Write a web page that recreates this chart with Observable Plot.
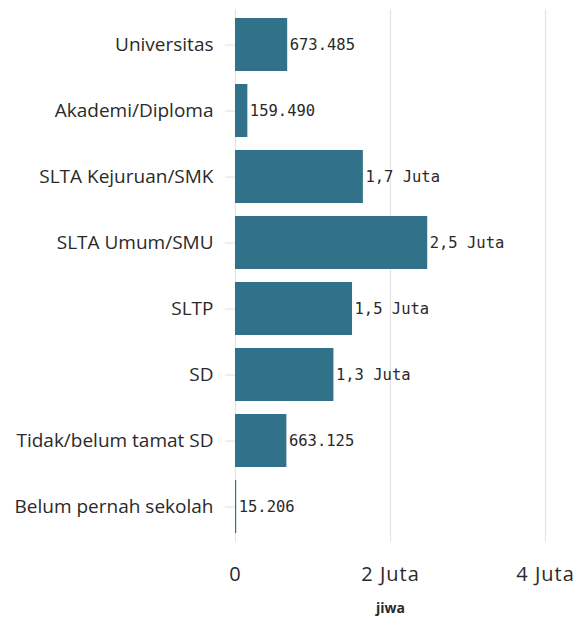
<!DOCTYPE html>
<html>
<head>
<meta charset="utf-8">
<script src="https://cdn.jsdelivr.net/npm/d3@7"></script>
<script src="https://cdn.jsdelivr.net/npm/@observablehq/plot@0.6"></script>
<style>
  html, body { margin: 0; padding: 0; background: #fff; }
  #chart svg { display: block; }
  g[aria-label="x-axis label"] text { font-weight: bold; font-size: 14px; font-family: "Open Sans"; }
  g[aria-label="x-axis tick label"] text { letter-spacing: 1px; }
</style>
</head>
<body>
<div id="chart"></div>
<script>
const categories = [
  "Universitas",
  "Akademi/Diploma",
  "SLTA Kejuruan/SMK",
  "SLTA Umum/SMU",
  "SLTP",
  "SD",
  "Tidak/belum tamat SD",
  "Belum pernah sekolah"
];
const values = [673485, 159490, 1650000, 2480000, 1510000, 1270000, 663125, 15206];
const valueLabels = ["673.485", "159.490", "1,7 Juta", "2,5 Juta", "1,5 Juta", "1,3 Juta", "663.125", "15.206"];
const xTicks = [0, 2000000, 4000000];
const xTickLabels = ["0", "2 Juta", "4 Juta"];
const axisTitle = "jiwa";

const data = categories.map((c, i) => ({category: c, value: values[i], label: valueLabels[i]}));
const tickLabel = new Map(xTicks.map((t, i) => [t, xTickLabels[i]]));

const chart = Plot.plot({
  width: 576,
  height: 618,
  marginLeft: 235,
  marginRight: 31,
  marginTop: 9,
  marginBottom: 76,
  style: {background: "#fff", color: "#2a2a2a"},
  x: {domain: [0, 4000000]},
  y: {domain: categories, paddingInner: 0.2, paddingOuter: 0.1},
  marks: [
    Plot.gridX(xTicks, {stroke: "#e4e4e4", strokeOpacity: 1, strokeWidth: 1.2}),
    Plot.barX(data, {x: "value", y: "category", fill: "#32718a"}),
    Plot.text(data, {
      x: "value", y: "category", text: "label",
      textAnchor: "start", dx: 2,
      fontFamily: "DejaVu Sans Mono", fontSize: 15.5, fill: "#2a2a2a"
    }),
    Plot.axisY({
      tickSize: 10, tickPadding: 12, label: null,
      stroke: "#e0e0e0",
      fontFamily: "Open Sans", fontSize: 19
    }),
    Plot.axisX({
      ticks: xTicks,
      tickFormat: d => tickLabel.get(d),
      tickSize: 0, tickPadding: 24,
      fontFamily: "Open Sans", fontSize: 20,
      label: axisTitle, labelAnchor: "center", labelArrow: "none", labelOffset: 70
    })
  ]
});
document.getElementById("chart").append(chart);
</script>
</body>
</html>
